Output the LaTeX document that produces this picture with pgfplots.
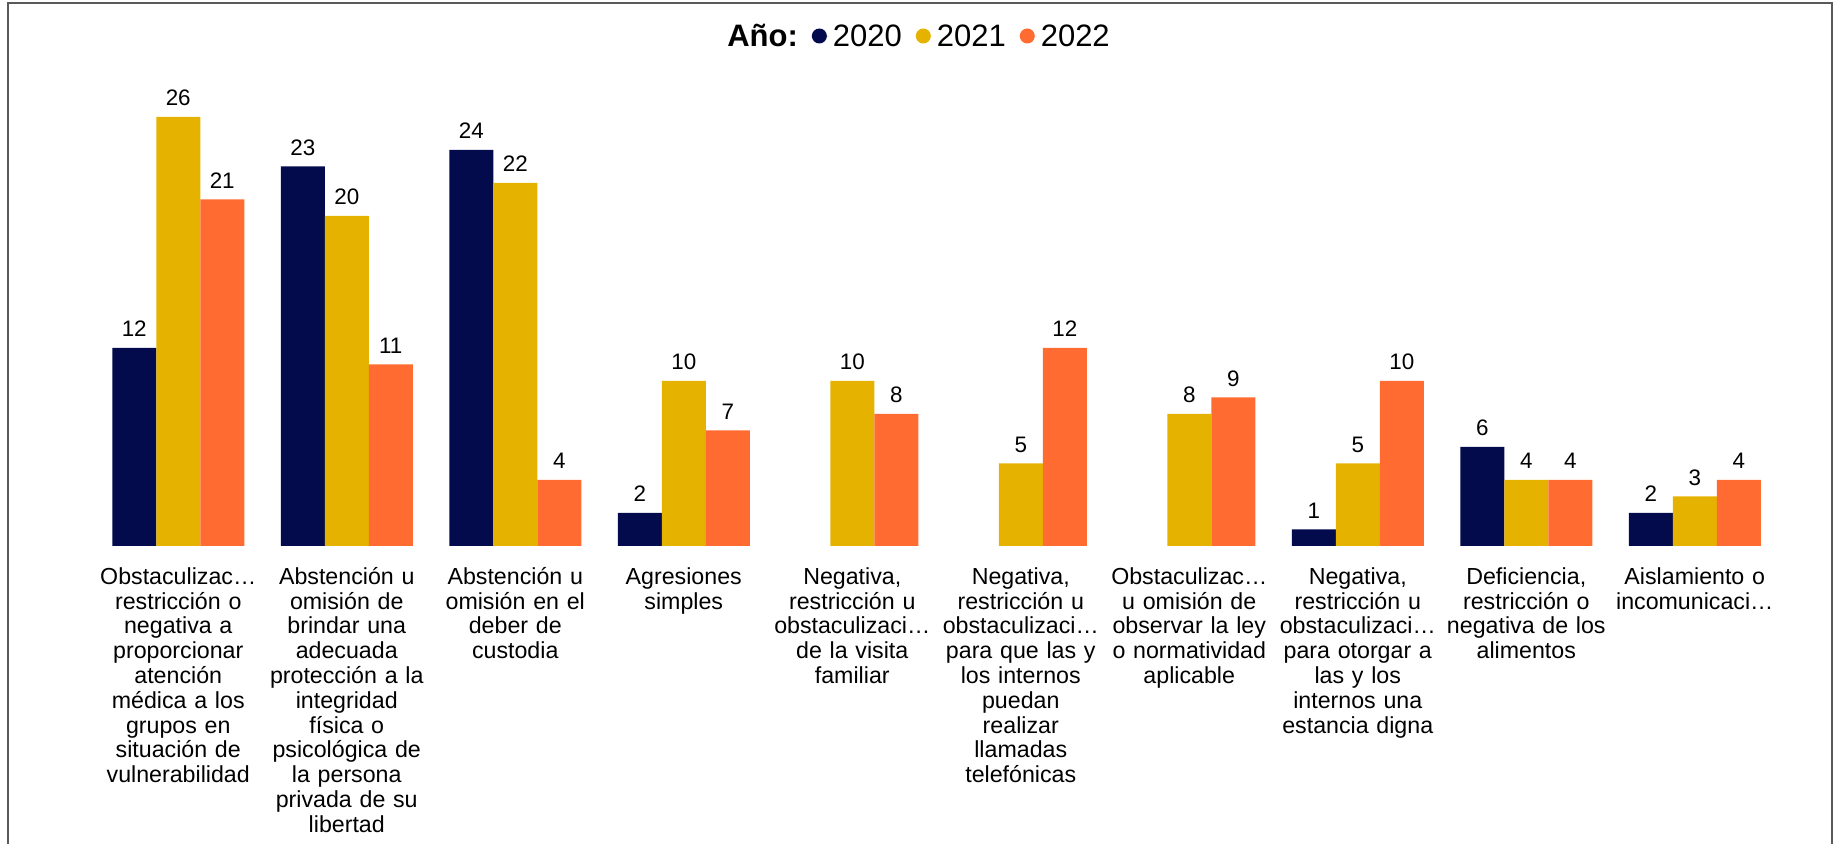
\documentclass[border=0pt]{standalone}
\usepackage{fontspec}
\setmainfont{Liberation Sans}
\usepackage{pgfplots}
\pgfplotsset{compat=1.18}
\definecolor{cnavy}{HTML}{030B4C}
\definecolor{cgold}{HTML}{E5B200}
\definecolor{corange}{HTML}{FF6B30}
\begin{document}
\begin{tikzpicture}[x=1pt,y=1pt]
\useasboundingbox (0,0) rectangle (919.5,422);
\draw[black!65, line width=1pt] (4,-5) -- (4,420.5) -- (916,420.5) -- (916,-5);
\begin{axis}[
  at={(47pt,149pt)}, anchor=south west,
  scale only axis, width=842.5pt, height=231pt,
  ymin=0, ymax=28, xmin=-0.5, xmax=9.5,
  axis lines*=left, axis line style={draw=none},
  ytick=\empty, xtick={0,...,9}, major tick length=0pt,
  /pgf/number format/assume math mode=true,
  ybar=0pt, bar width=22pt,
  nodes near coords,
  nodes near coords style={font=\fontsize{11.2}{13}\selectfont, text=black, yshift=2pt},
  xticklabel style={font=\fontsize{11.6}{12.4}\selectfont, align=center, text width=95pt,
    text height=0pt, inner ysep=0pt, anchor=north, yshift=-19pt},
  xticklabels={
    {Obstaculizac…\\restricción o\\negativa a\\proporcionar\\atención\\médica a los\\grupos en\\situación de\\vulnerabilidad},
    {Abstención u\\omisión de\\brindar una\\adecuada\\protección a la\\integridad\\física o\\psicológica de\\la persona\\privada de su\\libertad},
    {Abstención u\\omisión en el\\deber de\\custodia},
    {Agresiones\\simples},
    {Negativa,\\restricción u\\obstaculizaci…\\de la visita\\familiar},
    {Negativa,\\restricción u\\obstaculizaci…\\para que las y\\los internos\\puedan\\realizar\\llamadas\\telefónicas},
    {Obstaculizac…\\u omisión de\\observar la ley\\o normatividad\\aplicable},
    {Negativa,\\restricción u\\obstaculizaci…\\para otorgar a\\las y los\\internos una\\estancia digna},
    {Deficiencia,\\restricción o\\negativa de los\\alimentos},
    {Aislamiento o\\incomunicaci…}
  },
  legend style={at={(0.5,1)}, anchor=center, yshift=23.5pt, xshift=-9pt, draw=none, fill=none,
    legend columns=-1, font=\fontsize{15.5}{17}\selectfont,
    nodes={inner xsep=2pt, inner ysep=1pt},
    /tikz/every even column/.append style={column sep=4.5pt}},
  legend cell align=left,
]
\addlegendimage{empty legend}
\addlegendentry{\textbf{Año:}}
\addplot[fill=cnavy, draw=none, bar shift=-22pt,
  legend image code/.code={\fill[cnavy] (3.75pt,0.5pt) circle (3.75pt); \path (-0.5pt,0) -- (8.5pt,0);}]
  coordinates {(0,12) (1,23) (2,24) (3,2) (7,1) (8,6) (9,2)};
\addlegendentry{2020}
\addplot[fill=cgold, draw=none, bar shift=0pt,
  legend image code/.code={\fill[cgold] (3.75pt,0.5pt) circle (3.75pt); \path (-0.5pt,0) -- (8.5pt,0);}]
  coordinates {(0,26) (1,20) (2,22) (3,10) (4,10) (5,5) (6,8) (7,5) (8,4) (9,3)};
\addlegendentry{2021}
\addplot[fill=corange, draw=none, bar shift=22pt,
  legend image code/.code={\fill[corange] (3.75pt,0.5pt) circle (3.75pt); \path (-0.5pt,0) -- (8.5pt,0);}]
  coordinates {(0,21) (1,11) (2,4) (3,7) (4,8) (5,12) (6,9) (7,10) (8,4) (9,4)};
\addlegendentry{2022}
\end{axis}
\end{tikzpicture}
\end{document}
